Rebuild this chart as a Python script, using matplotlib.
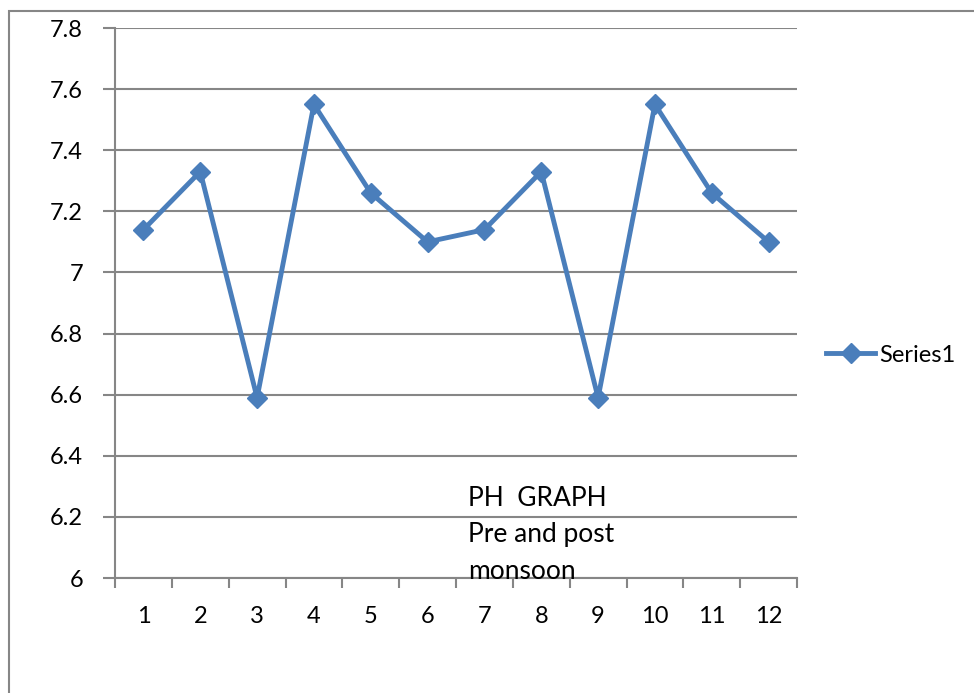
import matplotlib
matplotlib.use("Agg")
import matplotlib.pyplot as plt
import matplotlib.patches as patches

# pH readings, pre and post monsoon
sites = [1, 2, 3, 4, 5, 6, 7, 8, 9, 10, 11, 12]
ph_values = [7.14, 7.33, 6.59, 7.55, 7.26, 7.10, 7.14, 7.33, 6.59, 7.55, 7.26, 7.10]
y_ticks = [6, 6.2, 6.4, 6.6, 6.8, 7, 7.2, 7.4, 7.6, 7.8]
y_labels = ["6", "6.2", "6.4", "6.6", "6.8", "7", "7.2", "7.4", "7.6", "7.8"]

plt.rcParams['font.family'] = ['Lato', 'DejaVu Sans']
GRID = '#868686'
BLUE = '#4A7EBB'
FS = 17

fig = plt.figure(figsize=(9.74, 6.93), dpi=100)
ax = fig.add_axes([115 / 974, 1 - 578 / 693, 682 / 974, 550 / 693])

ax.plot(sites, ph_values, color=BLUE, lw=3.5, marker='D', markersize=10,
        markeredgecolor=BLUE, markerfacecolor=BLUE, label='Series1')

ax.set_xlim(0.5, 12.5)
ax.set_ylim(6, 7.8)
ax.set_yticks(y_ticks)
ax.set_yticklabels(y_labels)
ax.yaxis.grid(True, color=GRID, lw=1.5)
ax.set_axisbelow(True)

ax.set_xticks(sites)
ax.set_xticklabels([str(s) for s in sites])
ax.set_xticks([s + 0.5 for s in [0] + sites], minor=True)
ax.tick_params(axis='x', which='major', length=0, pad=20, labelsize=FS)
ax.tick_params(axis='x', which='minor', length=7, width=1.5, color=GRID)
ax.tick_params(axis='y', length=9, width=1.5, color=GRID, pad=14, labelsize=FS)

for side in ['top', 'right']:
    ax.spines[side].set_visible(False)
for side in ['left', 'bottom']:
    ax.spines[side].set_color(GRID)
    ax.spines[side].set_linewidth(1.5)

ax.text(0.518, 0.168, "PH  GRAPH\nPre and post\nmonsoon", transform=ax.transAxes,
        fontsize=19, va='top', ha='left', linespacing=1.58)

ax.legend(loc='center left', bbox_to_anchor=(1.025, 0.405), frameon=False,
          fontsize=FS, handlelength=2.1, handletextpad=0.15, borderpad=0)

# outer chart border (runs off the canvas on the right and bottom)
border = patches.Rectangle((9 / 974, -0.5), 2, 0.5 + (693 - 11) / 693,
                           transform=fig.transFigure, fill=False,
                           edgecolor=GRID, lw=1.5, clip_on=False)
fig.patches.append(border)

fig.savefig("out.png", dpi=100)
